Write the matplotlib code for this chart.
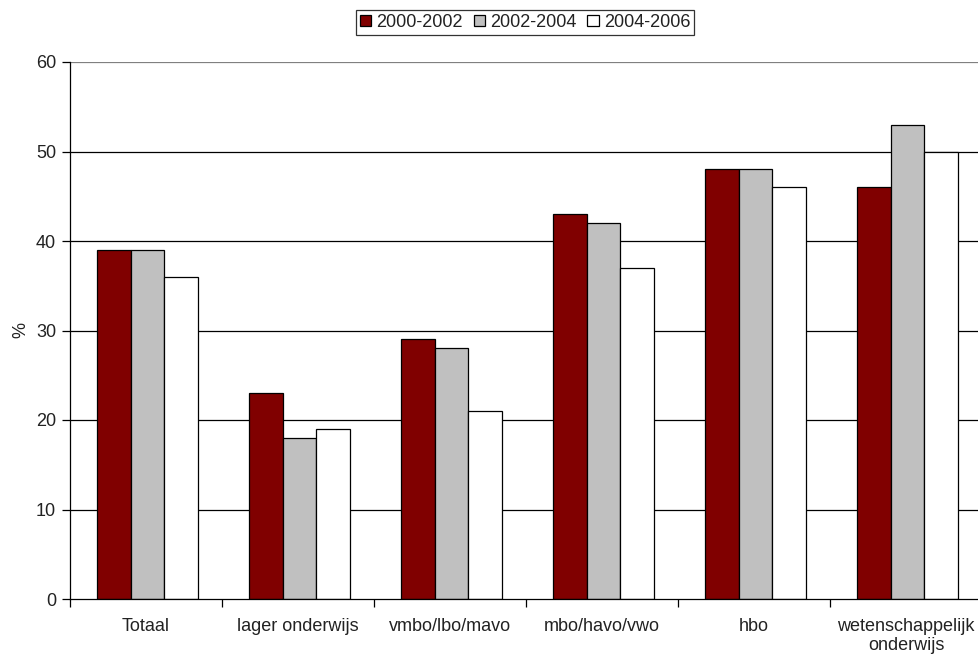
import matplotlib
matplotlib.use("Agg")
import matplotlib.pyplot as plt
import numpy as np
from matplotlib.patches import Patch

plt.rcParams['font.family'] = ['Liberation Sans', 'DejaVu Sans']

categories = ["Totaal", "lager onderwijs", "vmbo/lbo/mavo", "mbo/havo/vwo", "hbo",
              "wetenschappelijk\nonderwijs"]
series_names = ["2000-2002", "2002-2004", "2004-2006"]
v_2000_2002 = [39, 23, 29, 43, 48, 46]
v_2002_2004 = [39, 18, 28, 42, 48, 53]
v_2004_2006 = [36, 19, 21, 37, 46, 50]
colors = ["#800000", "#c0c0c0", "#ffffff"]
yticks = [0, 10, 20, 30, 40, 50, 60]

W, H = 979, 654
fig = plt.figure(figsize=(W / 100, H / 100), dpi=100)
left, right, top, bottom = 70, 982, 62, 599
ax = fig.add_axes([left / W, (H - bottom) / H, (right - left) / W, (bottom - top) / H])

fs = 13
tc = "#222222"
x = np.arange(len(categories))
bw = 0.222
for i, (vals, c) in enumerate(zip([v_2000_2002, v_2002_2004, v_2004_2006], colors)):
    ax.bar(x + (i - 1) * bw + 0.01, vals, width=bw, color=c, edgecolor="black",
           linewidth=0.9, zorder=3, label=series_names[i])

ax.set_xlim(-0.5, len(categories) - 0.5)
ax.set_ylim(0, 60)
ax.set_yticks(yticks)
ax.set_yticklabels([str(t) for t in yticks], fontsize=fs, color=tc)
for t in yticks[1:]:
    ax.axhline(t, color="black" if t < 60 else "#808080", linewidth=0.9, zorder=1)

ax.set_xticks(x)
ax.set_xticklabels(categories, fontsize=fs, linespacing=1.15, color=tc)
ax.tick_params(axis="x", which="major", length=0, pad=14)
ax.set_xticks(np.arange(-0.5, len(categories) + 0.5, 1), minor=True)
ax.tick_params(axis="x", which="minor", length=6, width=0.9, direction="out", color="black")
ax.tick_params(axis="y", length=6, width=0.9, direction="out", pad=4)

for s in ["top", "right"]:
    ax.spines[s].set_visible(False)
for s in ["left", "bottom"]:
    ax.spines[s].set_linewidth(0.9)
    ax.spines[s].set_zorder(4)

ax.set_ylabel("%", fontsize=fs, labelpad=5, color=tc)

handles = [Patch(facecolor=c, edgecolor="black", linewidth=0.9) for c in colors]
leg = fig.legend(handles, series_names, loc="center", bbox_to_anchor=(525 / W, 1 - 22.5 / H),
                 ncol=3, fontsize=fs, frameon=True, fancybox=False, handlelength=0.62,
                 handleheight=0.62, handletextpad=0.3, columnspacing=0.6,
                 borderpad=0.2, borderaxespad=0)
leg.get_frame().set_edgecolor("black")
leg.get_frame().set_linewidth(0.9)
for t in leg.get_texts():
    t.set_color(tc)

fig.savefig("out.png", dpi=100)
